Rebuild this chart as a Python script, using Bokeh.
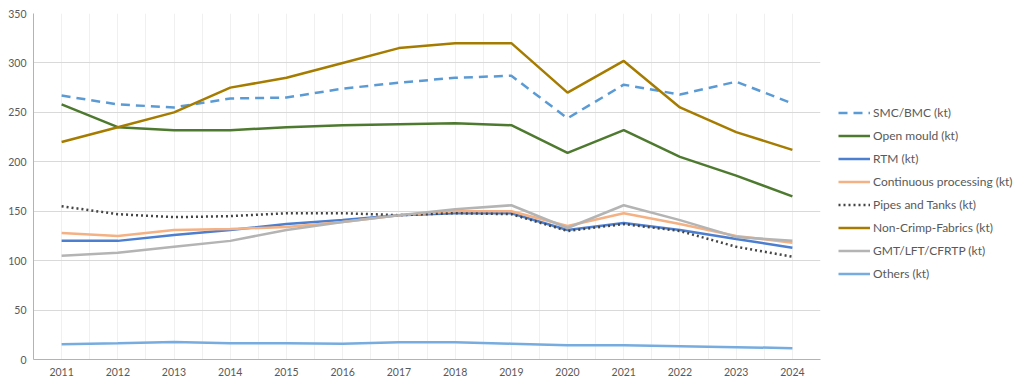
from bokeh.plotting import figure
from bokeh.models import FixedTicker, Legend, LegendItem, Range1d
from bokeh.embed import file_html
from bokeh.resources import INLINE

years = [2011, 2012, 2013, 2014, 2015, 2016, 2017, 2018, 2019, 2020, 2021, 2022, 2023, 2024]
smc = [267, 258, 255, 264, 265, 274, 280, 285, 287, 244, 278, 268, 281, 259]
open_mould = [258, 235, 232, 232, 235, 237, 238, 239, 237, 209, 232, 205, 186, 165]
rtm = [120, 120, 126, 131, 137, 141, 146, 148, 148, 131, 138, 131, 122, 113]
continuous = [128, 125, 131, 132, 134, 139, 146, 150, 150, 135, 148, 137, 125, 118]
pipes = [155, 147, 144, 145, 148, 148, 146, 148, 147, 130, 137, 130, 114, 104]
ncf = [220, 235, 250, 275, 285, 300, 315, 320, 320, 270, 302, 255, 230, 212]
gmt = [105, 108, 114, 120, 131, 139, 146, 152, 156, 133, 156, 141, 124, 120]
others = [15.5, 16.5, 17.8, 16.5, 16.5, 16, 17.5, 17.5, 16, 14.5, 14.5, 13.5, 12.5, 11.5]
y_ticks = [0, 50, 100, 150, 200, 250, 300, 350]

series = [
    ("SMC/BMC (kt)", smc, "#5b9bd5", "9 6"),
    ("Open mould (kt)", open_mould, "#4e7a2f", "solid"),
    ("RTM (kt)", rtm, "#4d7fd1", "solid"),
    ("Continuous processing (kt)", continuous, "#f4b183", "solid"),
    ("Pipes and Tanks (kt)", pipes, "#454545", "2 3"),
    ("Non-Crimp-Fabrics (kt)", ncf, "#a67c00", "solid"),
    ("GMT/LFT/CFRTP (kt)", gmt, "#b4b4b4", "solid"),
    ("Others (kt)", others, "#76acdf", "solid"),
]

p = figure(frame_width=787, frame_height=346, output_backend="svg", toolbar_location=None,
           x_range=Range1d(years[0] - 0.5, years[-1] + 0.5), y_range=Range1d(0, 350),
           min_border_left=33, min_border_top=13, min_border_bottom=28, min_border_right=0)
p.outline_line_color = None
p.background_fill_color = "white"
p.border_fill_color = "white"

items = []
for name, vals, color, dash in series:
    r = p.line(years, vals, line_color=color, line_width=2.5, line_dash=dash)
    items.append(LegendItem(label=name, renderers=[r]))

# grids
half_ticks = sorted(set([y - 0.5 for y in years] + years + [years[-1] + 0.5]))
p.xgrid.ticker = FixedTicker(ticks=half_ticks)
p.xgrid.grid_line_color = "#f0f0f0"
p.xgrid.grid_line_width = 1
p.ygrid.ticker = FixedTicker(ticks=y_ticks)
p.ygrid.grid_line_color = "#d9d9d9"
p.ygrid.grid_line_width = 1

# axes
p.xaxis.ticker = FixedTicker(ticks=years)
p.yaxis.ticker = FixedTicker(ticks=y_ticks)
for ax in (p.xaxis[0], p.yaxis[0]):
    ax.axis_line_color = "#b3b3b3"
    ax.axis_line_width = 1
    ax.major_tick_line_color = None
    ax.minor_tick_line_color = None
    ax.major_tick_out = 0
    ax.major_tick_in = 0
    ax.minor_tick_out = 0
    ax.major_label_text_color = "#595959"
    ax.major_label_text_font = "Lato"
    ax.major_label_text_font_size = "10.5px"
p.xaxis.major_label_standoff = 8
p.yaxis.major_label_standoff = 7

legend = Legend(items=items, location=(18, 77), orientation="vertical",
                glyph_width=32, glyph_height=17, label_height=17, spacing=6,
                label_standoff=3, padding=0, margin=0,
                border_line_color=None, background_fill_alpha=0,
                label_text_font="Lato", label_text_font_size="12px",
                label_text_color="#595959")
p.add_layout(legend, "right")

open("out.html", "w").write(file_html(p, INLINE))
